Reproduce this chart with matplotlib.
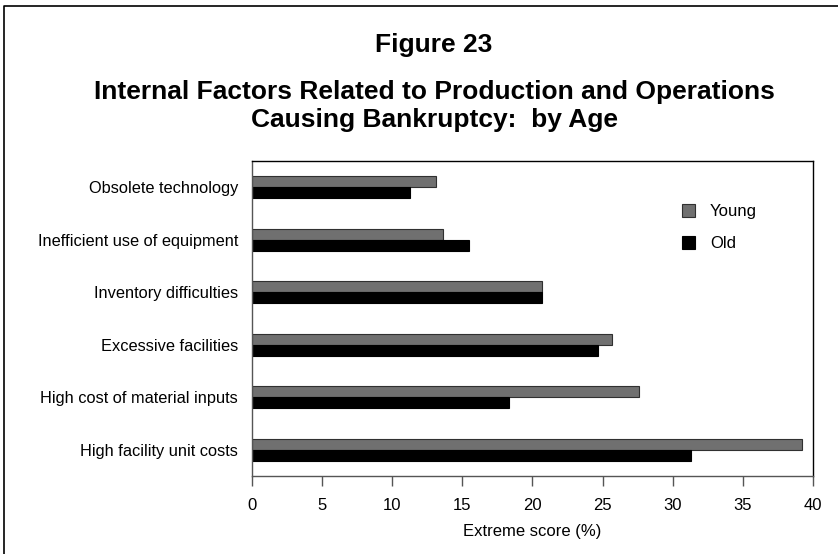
import matplotlib
matplotlib.use("Agg")
import matplotlib.pyplot as plt
from matplotlib.lines import Line2D
import numpy as np

factors = ["Obsolete technology", "Inefficient use of equipment", "Inventory difficulties",
           "Excessive facilities", "High cost of material inputs", "High facility unit costs"]
young = [13.1, 13.6, 20.7, 25.7, 27.6, 39.2]
old = [11.3, 15.5, 20.7, 24.7, 18.35, 31.3]
xticks = [0, 5, 10, 15, 20, 25, 30, 35, 40]

narrow = ["Liberation Sans Narrow", "Liberation Sans", "DejaVu Sans"]
bold = ["Liberation Sans", "Arial", "DejaVu Sans"]

fig = plt.figure(figsize=(8.38, 5.54), dpi=100)
ax = fig.add_axes([0.3007, 0.1408, 0.6694, 0.5686])

y = np.arange(len(factors)) + 0.5
h = 0.21
ax.barh(y - h / 2, young, height=h, color="#707070", edgecolor="#303030", linewidth=0.8, label="Young")
ax.barh(y + h / 2, old, height=h, color="black", edgecolor="black", linewidth=0.8, label="Old")

ax.set_ylim(len(factors), 0)
ax.set_xlim(0, 40)
ax.set_yticks(y)
ax.set_yticklabels(factors, family=narrow, fontsize=11.8)
ax.tick_params(axis="y", length=0, pad=10)
ax.set_xticks(xticks)
ax.set_xticklabels([str(t) for t in xticks], family=narrow, fontsize=12)
ax.tick_params(axis="x", direction="out", length=7, width=1, color="#555555", pad=9)
ax.set_xlabel("Extreme score (%)", family=narrow, fontsize=12, labelpad=8)
ax.spines["bottom"].set_color("#555555")
ax.spines["left"].set_color("#555555")
for s in ax.spines.values():
    s.set_linewidth(1)

ax.legend(loc="upper right", bbox_to_anchor=(0.927, 0.911), frameon=False,
          prop={"family": narrow, "size": 12}, handlelength=0.8, handleheight=0.8,
          handletextpad=0.9, labelspacing=1.0)

cx = 434 / 838
fig.text(cx, 1 - 45 / 554, "Figure 23", ha="center", va="center",
         fontsize=19, fontweight="bold", family=bold)
fig.text(cx, 1 - 92 / 554, "Internal Factors Related to Production and Operations",
         ha="center", va="center", fontsize=19, fontweight="bold", family=bold)
fig.text(cx, 1 - 120 / 554, "Causing Bankruptcy:  by Age",
         ha="center", va="center", fontsize=19, fontweight="bold", family=bold)

# outer frame (left and top edges)
fig.add_artist(Line2D([4 / 838, 4 / 838, 1.0], [0.0, 1 - 6 / 554, 1 - 6 / 554],
                      transform=fig.transFigure, color="black", linewidth=1.2))

fig.savefig("out.png", dpi=100)
